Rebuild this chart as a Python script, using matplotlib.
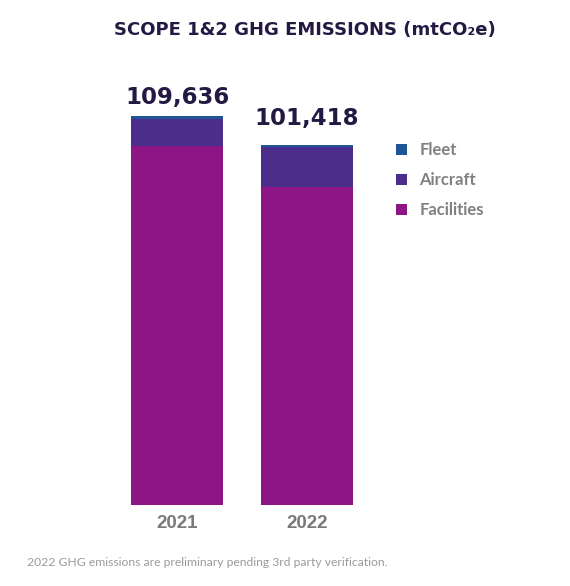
import matplotlib
matplotlib.use("Agg")
import matplotlib.pyplot as plt

# data
years = ["2021", "2022"]
facilities = [101206, 89678]
aircraft = [7500, 11180]
fleet = [930, 560]
totals = ["109,636", "101,418"]

c_fac = "#8e1585"
c_air = "#4b2e8c"
c_fleet = "#1f5596"
navy = "#231942"
grey = "#7a7a7a"

W, H = 570, 586
fig = plt.figure(figsize=(W / 100, H / 100), dpi=100)
ax = fig.add_axes([100 / W, (H - 505) / H, 280 / W, 445 / H])

x = [0, 1]
bw = 0.708
b1 = ax.bar(x, facilities, bw, color=c_fac, label="Facilities")
bottom2 = facilities
b2 = ax.bar(x, aircraft, bw, bottom=bottom2, color=c_air, label="Aircraft")
bottom3 = [f + a for f, a in zip(facilities, aircraft)]
b3 = ax.bar(x, fleet, bw, bottom=bottom3, color=c_fleet, label="Fleet")

# total labels above the stacks
pads = [7, 15]
for xi, b, f, lab, p in zip(x, bottom3, fleet, totals, pads):
    ax.annotate(lab, (xi, b + f), xytext=(0, p * 0.72), textcoords="offset points",
                ha="center", va="bottom", fontsize=16.5, fontweight="bold",
                color=navy, family="DejaVu Sans")

ax.set_xlim((100 - 177) / 130, (380 - 177) / 130)
ax.set_ylim(0, 125317)
ax.set_xticks(x, years)
ax.set_yticks([])
ax.tick_params(axis="x", length=0, pad=7.5, labelsize=13.5, labelcolor=grey)
for t in ax.get_xticklabels():
    t.set_fontweight("bold")
    t.set_family("Liberation Sans")
for s in ax.spines.values():
    s.set_visible(False)

leg = fig.legend(handles=[b3, b2, b1], labels=["Fleet", "Aircraft", "Facilities"],
                 loc="upper left", bbox_to_anchor=(396 / W, 1 - 142 / H),
                 frameon=False, borderpad=0, borderaxespad=0,
                 handlelength=0.66, handleheight=0.66, handletextpad=0.75,
                 labelspacing=0.85, prop={"family": "Lato", "weight": "bold", "size": 12})
for t in leg.get_texts():
    t.set_color("#808080")

fig.text(305 / W, 1 - 30 / H, "SCOPE 1&2 GHG EMISSIONS (mtCO\u2082e)", ha="center", va="center",
         fontsize=13, fontweight="bold", color=navy, family="DejaVu Sans")
fig.text(27 / W, 1 - 562 / H, "2022 GHG emissions are preliminary pending 3rd party verification.",
         ha="left", va="center", fontsize=8.7, color="#9a9a9a", family="Lato")

fig.savefig("out.png", dpi=100)
